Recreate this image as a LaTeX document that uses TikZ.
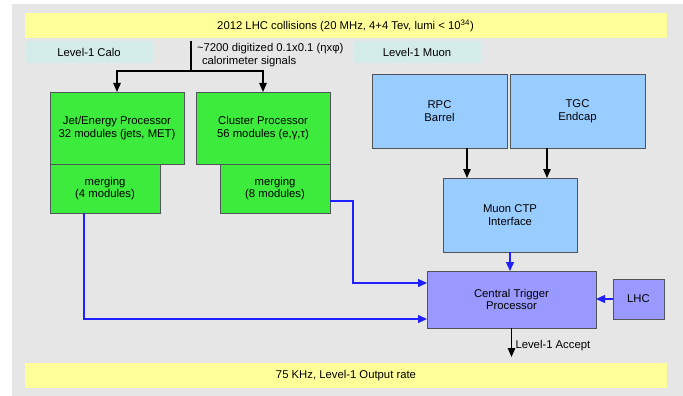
\documentclass[tikz,border=0pt]{standalone}
\usepackage{fontspec}
\setmainfont{Liberation Sans}
\usetikzlibrary{arrows.meta}
\definecolor{panelgray}{HTML}{E6E6E6}
\definecolor{baryellow}{HTML}{FFFF99}
\definecolor{labelteal}{HTML}{D3EBE9}
\definecolor{calogreen}{HTML}{3DEB3D}
\definecolor{muonblue}{HTML}{99CCFF}
\definecolor{ctpviolet}{HTML}{9999FF}
\definecolor{edgegray}{HTML}{50555A}
\definecolor{linkblue}{HTML}{2020FF}
\begin{document}
\begin{tikzpicture}[
    x=1pt, y=-1pt,
    every node/.style={font=\fontsize{11.3}{12.8}\selectfont, inner sep=0pt, outer sep=0pt, align=center},
    arrowstyle/.style={draw, line width=1.1pt, -{Triangle[width=7.5pt,length=9pt]}},
    bluearrow/.style={draw=linkblue, line width=1.2pt, -{Triangle[width=8pt,length=9pt]}},
    bar/.style={rectangle, fill=baryellow, minimum width=642, minimum height=25},
    levellabel/.style={rectangle, fill=labelteal, minimum width=127, minimum height=22},
    calobox/.style={rectangle, draw=edgegray, line width=0.8pt, fill=calogreen},
    muonbox/.style={rectangle, draw=edgegray, line width=0.8pt, fill=muonblue,
        minimum width=135, minimum height=74},
    ctpbox/.style={rectangle, draw=edgegray, line width=0.8pt, fill=ctpviolet}
]
\useasboundingbox (0,0) rectangle (683,396);
\fill[panelgray] (12,4) rectangle (683,396);

\node (TopBar) [bar] at (345.5,25.5) {2012 LHC collisions (20 MHz, 4+4 Tev, lumi < 10\textsuperscript{34})};
\node (BottomBar) [bar] at (346,375.5) {75 KHz, Level-1 Output rate};

\node (CaloLabel) [levellabel] at (89,52) {Level-1 Calo};
\node (MuonLabel) [levellabel] at (417,52) {Level-1 Muon};

% calorimeter branch
\node (JetProc) [calobox, minimum width=134, minimum height=72] at (117,128)
    {Jet/Energy Processor\\32 modules (jets, MET)};
\node (JetMerge) [calobox, minimum width=110, minimum height=49] at (105,188.5)
    {merging\\(4 modules)};
\node (ClusterProc) [calobox, minimum width=134, minimum height=72] at (263,128)
    {Cluster Processor\\56 modules (e,γ,τ)};
\node (ClusterMerge) [calobox, minimum width=110, minimum height=49] at (275,188.5)
    {merging\\(8 modules)};

\coordinate (Feed) at (191,41);
\coordinate (Split) at (191,71);
\node (Signals) [anchor=west, align=left] at (197,55)
    {\textasciitilde7200 digitized 0.1x0.1 (ηxφ)\\\hspace{5pt}calorimeter signals};
\draw[line width=1.1pt] (Feed) -- (Split);
\draw[arrowstyle] (Split) -| (JetProc.north);
\draw[arrowstyle] (Split) -| (ClusterProc.north);

% muon branch
\node (RPC) [muonbox] at (439.5,111) {RPC\\Barrel};
\node (TGC) [muonbox] at (577.5,111) {TGC\\Endcap};
\node (MuonCTP) [muonbox, minimum width=134] at (510,215) {Muon CTP\\Interface};

\draw[arrowstyle] ([xshift=27.5pt]RPC.south) -- ([xshift=27.5pt]RPC.south |- MuonCTP.north);
\draw[arrowstyle] ([xshift=-30.5pt]TGC.south) -- ([xshift=-30.5pt]TGC.south |- MuonCTP.north);

% central trigger
\node (CTP) [ctpbox, minimum width=169, minimum height=57] at (511.5,299.5)
    {Central Trigger\\Processor};
\node (LHC) [ctpbox, minimum width=51, minimum height=40] at (638.5,299) {LHC};

\draw[bluearrow] (MuonCTP.south) -- (MuonCTP.south |- CTP.north);
\draw[bluearrow] ([yshift=-12.5pt]ClusterMerge.east) -- ++(23,0) |- ([yshift=16.5pt]CTP.west);
\draw[bluearrow] ([xshift=-21pt]JetMerge.south) |- ([yshift=-19.5pt]CTP.west);
\draw[bluearrow] (LHC.west) -- (LHC.west -| CTP.east);

\coordinate (Accept) at (511.5,357);
\draw[arrowstyle] (CTP.south) -- (Accept)
    node [pos=0.6, anchor=west, xshift=4pt] {Level-1 Accept};

\end{tikzpicture}
\end{document}
